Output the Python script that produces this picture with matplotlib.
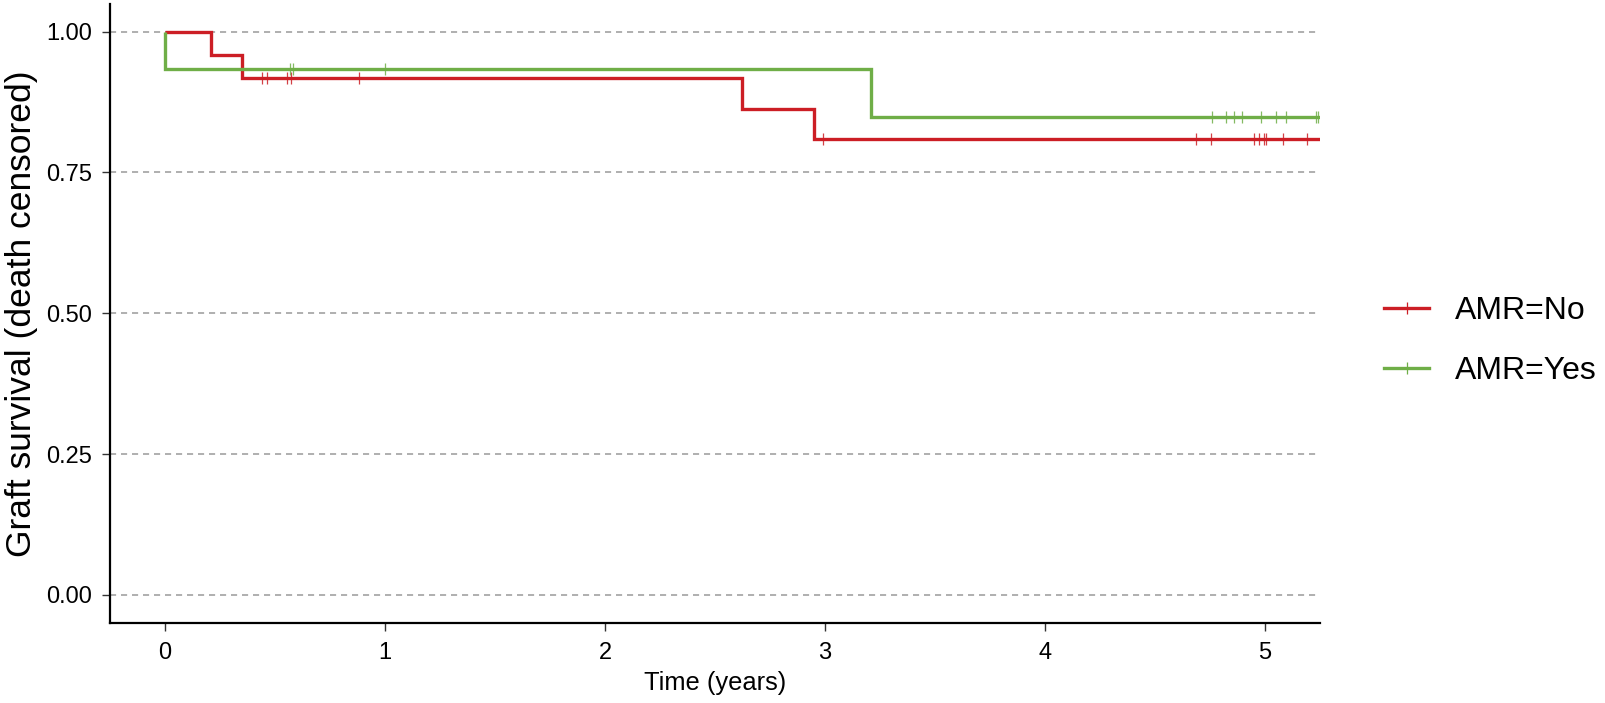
import numpy as np
import matplotlib
matplotlib.use("Agg")
import matplotlib.pyplot as plt
from matplotlib.lines import Line2D

plt.rcParams['font.family'] = ['Liberation Sans', 'DejaVu Sans']

# Kaplan-Meier steps (time in years, survival)
no_times = [0.0, 0.208, 0.349, 2.621, 2.951]
no_surv = [1.0, 0.958, 0.917, 0.863, 0.809]
no_censor = [0.44, 0.465, 0.553, 0.573, 0.88, 2.993,
             4.687, 4.755, 4.948, 4.973, 4.995, 5.003, 5.08, 5.19]

yes_times = [0.0, 0.0, 3.21]
yes_surv = [1.0, 0.933, 0.848]
yes_censor = [0.57, 0.582, 0.999,
              4.76, 4.823, 4.857, 4.894, 4.983, 5.052, 5.094, 5.23, 5.24]

follow_up_end = 5.3

groups = ['AMR=No', 'AMR=Yes']
colors = ['#CC1E25', '#6FAE47']

y_ticks = [0.0, 0.25, 0.5, 0.75, 1.0]
x_ticks = [0, 1, 2, 3, 4, 5]


def surv_at(times, surv, t):
    # значение ступенчатой функции в момент t
    idx = np.searchsorted(times, t, side='right') - 1
    return np.array(surv)[idx]


fig = plt.figure(figsize=(16.06, 7.03), dpi=100)
ax = fig.add_axes([110 / 1606, 1 - 623 / 703, (1320 - 110) / 1606, (623 - 3.5) / 703])

# dashed horizontal grid
for yv in y_ticks:
    ax.axhline(yv, color='#9a9a9a', lw=1.1, ls=(0, (4, 3.2)), zorder=0)

curves = [(no_times, no_surv, no_censor), (yes_times, yes_surv, yes_censor)]
for (times, surv, cens), col in zip(curves, colors):
    xs = list(times) + [follow_up_end]
    ys = list(surv) + [surv[-1]]
    ax.step(xs, ys, where='post', color=col, lw=2.4, zorder=3,
            solid_joinstyle='miter', solid_capstyle='butt')
    cy = surv_at(times, surv, np.array(cens))
    ax.plot(cens, cy, ls='none', marker='|', markersize=8.8,
            markeredgewidth=0.9, color=col, alpha=0.85, zorder=4)

ax.set_xlim(-0.25, 5.25)
ax.set_ylim(-0.05, 1.05)
ax.set_xticks(x_ticks)
ax.set_xticklabels([str(v) for v in x_ticks])
ax.set_yticks(y_ticks)
ax.set_yticklabels([f'{v:.2f}' for v in y_ticks])
ax.tick_params(axis='both', length=6, width=1.0, color='#333333',
               labelsize=17, labelcolor='black')
ax.tick_params(axis='x', pad=7.5)
ax.tick_params(axis='y', pad=7)

for side in ['top', 'right']:
    ax.spines[side].set_visible(False)
for side in ['left', 'bottom']:
    ax.spines[side].set_linewidth(1.6)
    ax.spines[side].set_color('black')

ax.set_xlabel('Time (years)', fontsize=18.4, labelpad=5)
ax.set_ylabel('Graft survival (death censored)', fontsize=25.5, labelpad=6)

handles = [Line2D([0], [0], color=c, lw=2.4, marker='|', markersize=8.8,
                  markeredgewidth=0.9) for c in colors]
fig.legend(handles, groups, loc='center left',
           bbox_to_anchor=(1384 / 1606, 1 - 341 / 703),
           frameon=False, fontsize=23, handlelength=1.42,
           handletextpad=0.79, labelspacing=0.92, borderpad=0,
           borderaxespad=0, numpoints=1)

fig.savefig('out.png', dpi=100)
